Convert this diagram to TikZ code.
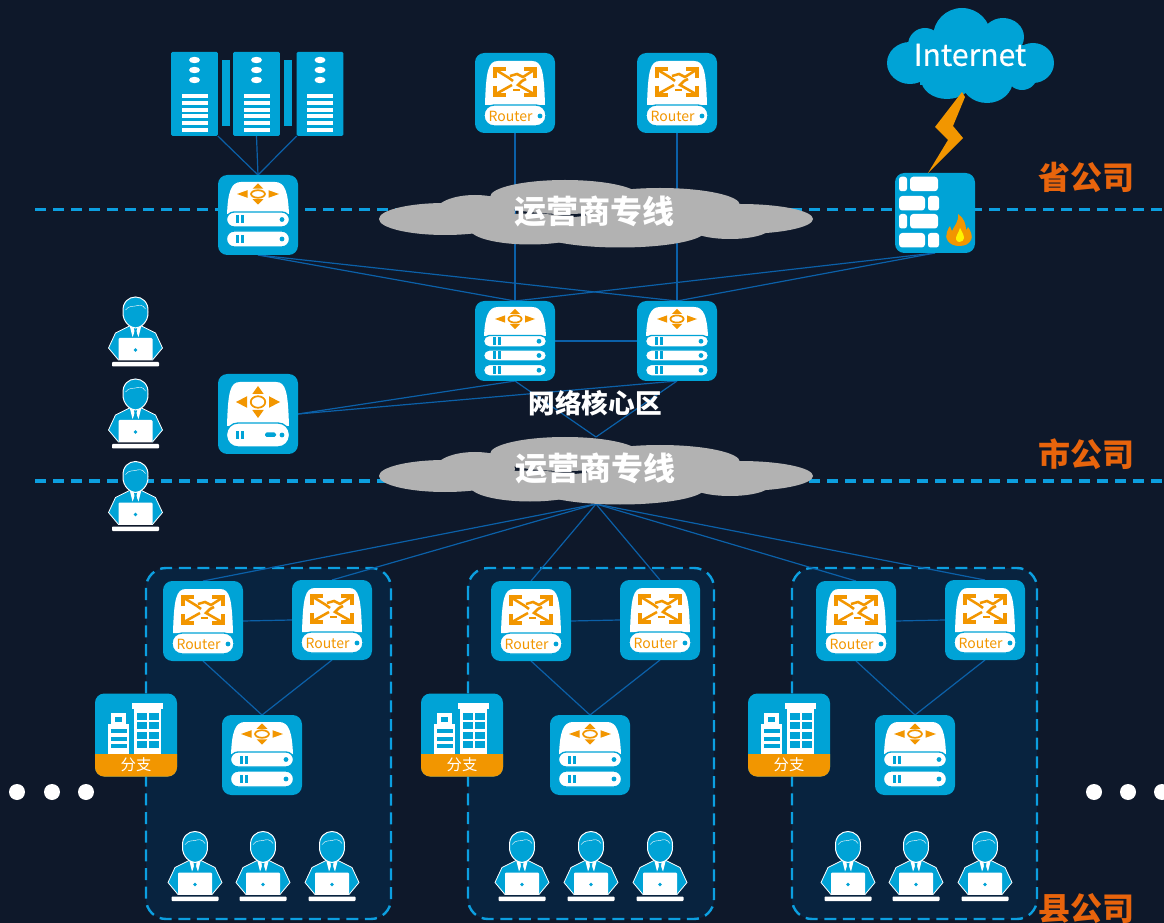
\documentclass[tikz,border=0pt]{standalone}
\usepackage{fontspec}
\setmainfont{Noto Sans CJK SC}
\newfontfamily\inetfont[FakeBold=0.35]{Noto Sans CJK SC}
\definecolor{bgc}{HTML}{0E182A}
\definecolor{panelc}{HTML}{08233F}
\definecolor{dev}{HTML}{00A3D6}
\definecolor{dashc}{HTML}{0C9FE0}
\definecolor{linkc}{HTML}{0B60A8}
\definecolor{orng}{HTML}{F29600}
\definecolor{lbl}{HTML}{E8640C}
\definecolor{cloudg}{HTML}{B2B2B2}
\tikzset{
  devbox/.style={fill=dev,rounded corners=7pt,minimum size=60pt,inner sep=0pt,outer sep=0pt},
  srvbox/.style={fill=dev,rounded corners=1pt,minimum width=35pt,minimum height=63pt,inner sep=0pt,outer sep=0pt},
  bldbox/.style={fill=dev,rounded corners=7pt,minimum width=61.5pt,minimum height=62.25pt,inner sep=0pt,outer sep=0pt},
  link/.style={draw=linkc,line width=.9pt},
  tier/.style={draw=dashc,line width=2.4pt,dash pattern=on 8.5pt off 5pt},
  panel/.style={fill=panelc,draw=dashc,line width=1.8pt,dash pattern=on 9pt off 5pt,rounded corners=15pt},
  tierlabel/.style={text=lbl,font=\bfseries\fontsize{24}{24}\selectfont,inner sep=0pt},
  cloudanchor/.style={inner sep=0pt,minimum width=325.5pt,minimum height=50.25pt,outer sep=0pt},
  cloudtext/.style={text=white,font=\bfseries\fontsize{24}{24}\selectfont,inner sep=0pt},
  pics/person/.style={code={
    \draw[fill=dev,draw=white,line width=.6pt] (-6,-6) -- (-20,1) -- (-27,16) -- (-17,28) -- (17,28) -- (27,16) -- (20,1) -- (6,-6) -- cycle;
    \fill[white] (-6,-7) -- (-3,5) -- (0,-2) -- (3,5) -- (6,-7) -- cycle;
    \fill[dev] (-1.6,-4) -- (1.6,-4) -- (1,-1) -- (2,5) -- (-2,5) -- (-1,-1) -- cycle;
    \draw[fill=dev,draw=white,line width=.75pt] (-12.5,-20) .. controls (-14,-40) and (14,-40) .. (12.5,-20) .. controls (13,-10) and (5,-4) .. (0,-4) .. controls (-5,-4) and (-13,-10) .. (-12.5,-20) -- cycle;
    \draw[white,line width=.3pt] (-10,-22) .. controls (-6,-27) and (-3,-25) .. (0,-26) .. controls (3,-27) and (7,-28) .. (10,-23);
    \fill[white,rounded corners=.8pt] (-17,6) rectangle (17,28);
    \fill[dev] (0,18) circle [radius=1.8];
    \fill[white,rounded corners=.6pt] (-23.5,30) rectangle (23.5,34.5);
  }},
  pics/server/.style={code={
    \foreach \yy in {-34,-24,-14} \fill[white] (0,\yy) ellipse [x radius=5.5,y radius=3.2];
    \foreach \yy in {2,9,16,22.5,29,36} \fill[white] (-13,\yy-2) rectangle (13,\yy+2);
  }},
  pics/firewall/.style={code={
    \foreach \yy in {-36.3,1} {
      \fill[white,rounded corners=2pt] (-36,\yy) rectangle (-28,\yy+14.5);
      \fill[white,rounded corners=2.5pt] (-25,\yy) rectangle (3,\yy+14.5);
    }
    \foreach \yy in {-17,20} {
      \fill[white,rounded corners=2.5pt] (-36,\yy) rectangle (-10,\yy+14.5);
      \fill[white,rounded corners=2pt] (-7,\yy) rectangle (4,\yy+14.5);
    }
    \fill[orng] (24,33) .. controls (14,33) and (9,25) .. (12,19) .. controls (13,16) and (14,14) .. (15,13) .. controls (16,15) and (16,17) .. (17,18) .. controls (19,13) and (24,9) .. (23,1) .. controls (29,5) and (31,11) .. (31,17) .. controls (32,16) and (33,15) .. (33,14) .. controls (36,18) and (38,24) .. (36,27) .. controls (34,31) and (30,33) .. (24,33) -- cycle;
    \fill[yellow] (24.5,29) .. controls (21,29) and (20,25) .. (22,22) .. controls (23,20) and (24,18) .. (25,15) .. controls (27,19) and (29,22) .. (29,25) .. controls (29,27) and (27,29) .. (24.5,29) -- cycle;
  }},
  pics/building/.style={code={
    \fill[orng] (-41,19) -- (41,19) [rounded corners=7pt] -- (41,41.6) -- (-41,41.6) [sharp corners] -- cycle;
    \fill[white] (-25,-22) rectangle (-10,-11);
    \fill[white] (-28,-11) rectangle (-7,19);
    \fill[dev] (-21,-18) rectangle (-14,-13);
    \foreach \yy in {-6,2,9} \fill[dev] (-25,\yy) rectangle (-9,\yy+4);
    \fill[white] (-2,-26) rectangle (25,19);
    \fill[white] (-4,-32) rectangle (27,-26);
    \foreach \yy/\hh in {-22/7,-13/7,-3/7,6/7} {
      \fill[dev] (1,\yy) rectangle (11,\yy+\hh);
      \fill[dev] (13,\yy) rectangle (23,\yy+\hh);
    }
    \node[text=white,font=\fontsize{11.5}{11.5}\selectfont,inner sep=0pt] (-t) at (0,29.5) {分支};
  }}
}
% \ocross{cy}{hx}{hy}: orange four-way arrows
\newcommand\ocross[3]{
  \begin{scope}[shift={(0,#1)}]
    \draw[orng,line width=1.3pt,fill=white] (0,0) ellipse [x radius=#2*.33,y radius=#3*.36];
    \fill[orng] (-#2,0) -- (-#2*.5,-#3*.36) -- (-#2*.5,#3*.36) -- cycle;
    \fill[orng] (#2,0) -- (#2*.5,-#3*.36) -- (#2*.5,#3*.36) -- cycle;
    \fill[orng] (0,-#3) -- (-#2*.26,-#3*.5) -- (#2*.26,-#3*.5) -- cycle;
    \fill[orng] (0,#3) -- (-#2*.26,#3*.5) -- (#2*.26,#3*.5) -- cycle;
  \end{scope}
}
\newcommand\domeshape[4]{% top bottom halfTop halfBottom
  \fill[white] (-#4,#2) .. controls (-#4+1,#1+10) and (-#3,#1) .. (-#3+10,#1) -- (#3-10,#1) .. controls (#3,#1) and (#4-1,#1+10) .. (#4,#2) -- cycle;
}
% \diskpill{top}{bottom}{radius}
\newcommand\diskpill[3]{
  \draw[dev,line width=1pt,fill=white,rounded corners=#3] (-31.5,#1) rectangle (31.5,#2);
  \fill[dev] (-22.5,#1*.5+#2*.5-4) rectangle (-19.5,#1*.5+#2*.5+4);
  \fill[dev] (-17,#1*.5+#2*.5-4) rectangle (-14,#1*.5+#2*.5+4);
  \fill[dev] (24,#1*.5+#2*.5) circle [radius=2.4];
}
\tikzset{
  pics/switchtwo/.style={code={
    \domeshape{-33}{-1}{27}{31}\ocross{-21}{21}{10.5}
    \diskpill{-3}{12}{5.6pt}\diskpill{16}{32}{5.8pt}
  }},
  pics/switchthree/.style={code={
    \domeshape{-34}{-5}{27}{31}\ocross{-22}{20}{10}
    \diskpill{-5.5}{6}{4.2pt}\diskpill{9}{20}{4.2pt}\diskpill{23.5}{35}{4.2pt}
  }},
  pics/switchone/.style={code={
    \domeshape{-32}{12}{28}{31}\ocross{-12}{22}{16}
    \diskpill{9}{33}{8.6pt}
    \fill[dev,rounded corners=1.2pt] (7,18.5) rectangle (18,23);
  }},
  pics/router/.style={code={
    \domeshape{-32}{12}{27}{30}
    \begin{scope}[shift={(0,-11)},orng,line width=2.3pt]
      \draw (-20,-4) -- (-20,-13) -- (-9,-13);
      \draw (20,-4) -- (20,-13) -- (9,-13);
      \draw (-20,4) -- (-20,13) -- (-9,13);
      \draw (20,4) -- (20,13) -- (9,13);
      \draw[line width=1.9pt] (-19,-12) -- (-6,-4) -- (-2,-1);
      \draw[line width=1.9pt] (-19,12) -- (-3,3);
      \draw[line width=1.9pt] (19,-12) -- (8,-5) -- (2,-8) -- (-5,-6);
      \draw[line width=1.9pt] (19,12) -- (3,3) -- (7,-1) -- (11,-3);
      \draw[line width=1.9pt] (-2,8) -- (5,8);
    \end{scope}
    \draw[dev,line width=1pt,fill=white,rounded corners=7.6pt] (-31,12) rectangle (31,33);
    \node[text=orng,font=\fontsize{10.5}{10.5}\selectfont,inner sep=0pt] (-t) at (-4.5,23.5) {Router};
    \fill[dev] (25,23) circle [radius=2.4];
  }}
}
\pgfdeclarelayer{under}\pgfsetlayers{under,main}
\begin{document}
\begin{tikzpicture}[x=.75pt,y=-.75pt]
\useasboundingbox (0,0) rectangle (1164,923);
\begin{pgfonlayer}{under}
  \fill[bgc] (0,0) rectangle (1164,923);
  \path[panel] (146,568) rectangle (391,919);
  \path[panel] (468,568) rectangle (714,919);
  \path[panel] (792,568) rectangle (1037,919);
  \path[tier] (35,209.5) -- (1164,209.5);
  \path[tier] (35,481) -- (1164,481);
\end{pgfonlayer}

% top row
\node[srvbox] (s1) at (194.5,94) {};
\node[srvbox] (s2) at (256.5,94) {};
\node[srvbox] (s3) at (320,94) {};
\fill[dev] (222,60) rectangle (230,126);
\fill[dev] (284,60) rectangle (292,126);
\pic at (s1) {server};\pic at (s2) {server};\pic at (s3) {server};
\node[devbox] (r1) at (515,93) {};
\pic (r1i) at (r1) {router};
\node[devbox] (r2) at (677,93) {};
\pic (r2i) at (r2) {router};
\node[devbox] (sw) at (258,215) {};
\pic at (sw) {switchtwo};
\node[devbox] (fw) at (935,213) {};
\pic at (fw) {firewall};

% internet cloud + lightning
\fill[dev] (962,37) circle [radius=29];
\fill[dev] (925,45) circle [radius=17];
\fill[dev] (1003,37) ellipse [x radius=21,y radius=19];
\fill[dev] (910,63) ellipse [x radius=23,y radius=21];
\fill[dev] (1033,63) ellipse [x radius=21,y radius=20];
\fill[dev] (947,79) ellipse [x radius=26,y radius=20];
\fill[dev] (987,80) ellipse [x radius=26,y radius=23];
\fill[dev] (1022,76) ellipse [x radius=15,y radius=14];
\fill[dev] (920,45) rectangle (1030,85);
\node[text=white,inner sep=0pt,font=\inetfont\fontsize{22.6}{22.6}\selectfont] (inet) at (970,55) {Internet};
\coordinate (boltTop) at (962,92);
\fill[orng] (boltTop) -- (965,97) -- (953,126) -- (963,138) -- (928,173) -- (948,140) -- (935,127) -- cycle;

% grey clouds
\foreach \dy in {0,257} {
  \fill[cloudg] (475,212+\dy) ellipse [x radius=40,y radius=17];
  \fill[cloudg] (445,219+\dy) ellipse [x radius=66,y radius=16];
  \fill[cloudg] (565,197+\dy) ellipse [x radius=75,y radius=17];
  \fill[cloudg] (660,205+\dy) ellipse [x radius=80,y radius=17];
  \fill[cloudg] (740,219+\dy) ellipse [x radius=73,y radius=15];
  \fill[cloudg] (530,229+\dy) ellipse [x radius=60,y radius=15.5];
  \fill[cloudg] (620,231+\dy) ellipse [x radius=85,y radius=16.5];
  \fill[cloudg] (730,228+\dy) ellipse [x radius=40,y radius=11];
}
\node[cloudanchor] (cl1) at (596,213.5) {};
\node[cloudanchor] (cl2) at (596,470.5) {};
\node[cloudtext] (cl1t) at (594,211) {运营商专线};
\node[cloudtext] (cl2t) at (595,468) {运营商专线};

% core
\node[devbox] (k1) at (515,341) {};
\pic at (k1) {switchthree};
\node[devbox] (k2) at (677,341) {};
\pic at (k2) {switchthree};
\node[devbox] (ac) at (258,414) {};
\pic at (ac) {switchone};
\node[text=white,font=\bfseries\fontsize{20}{20}\selectfont,inner sep=0pt] (coreT) at (595,403) {网络核心区};

% labels
\node[tierlabel] (l1) at (1086,177) {省公司};
\node[tierlabel] (l2) at (1086,454) {市公司};
\node[tierlabel] (l3) at (1086,909) {县公司};

% left persons
\pic at (135.5,332) {person};
\pic at (135.5,414) {person};
\pic at (135.5,496.5) {person};

% dots
\foreach \xx in {17,52,86,1094,1128,1162}
  \fill[white] (\xx,792) circle [radius=8];

% branches
\foreach \n/\ax/\bx/\sx/\hx/\pa/\pb/\pc in {a/203/332/262/136/195/263/332, b/531/660/590/462/522/591/660, c/856/985/915/789/848/916/985} {
  \node[devbox] (\n1) at (\ax,621) {};
  \pic (\n1i) at (\n1) {router};
  \node[devbox] (\n2) at (\bx,620) {};
  \pic (\n2i) at (\n2) {router};
  \node[devbox] (\n3) at (\sx,755) {};
  \pic at (\n3) {switchtwo};
  \node[bldbox] (\n4) at (\hx,735) {};
  \pic (\n4i) at (\n4) {building};
  \pic at (\pa,866.5) {person};
  \pic at (\pb,866.5) {person};
  \pic at (\pc,866.5) {person};
}

% connectors
\begin{pgfonlayer}{under}
  \path[link] (s1.south east) -- (sw.north);
  \path[link] (s2.south) -- (sw.north);
  \path[link] (s3.south west) -- (sw.north);
  \path[link] (r1.south) -- (k1.north);
  \path[link] (r2.south) -- (k2.north);
  \path[link] (sw.south) -- (k1.north);
  \path[link] (sw.south) -- (k2.north);
  \path[link] (fw.south) -- (k1.north);
  \path[link] (fw.south) -- (k2.north);
  \path[link,line width=2.2pt] (k1.east) -- (k2.west);
  \path[link] (k1.south) -- (cl2.north);
  \path[link] (k2.south) -- (cl2.north);
  \path[link] (ac.east) -- (k1.south);
  \path[link] (ac.east) -- (k2.south);
  \foreach \n in {a,b,c} {
    \path[link] (cl2.south) -- (\n1.north);
    \path[link] (cl2.south) -- (\n2.north);
    \path[link] (\n1.east) -- (\n2.west);
    \path[link] (\n1.south) -- (\n3.north);
    \path[link] (\n2.south) -- (\n3.north);
  }
\end{pgfonlayer}
\end{tikzpicture}
\end{document}
